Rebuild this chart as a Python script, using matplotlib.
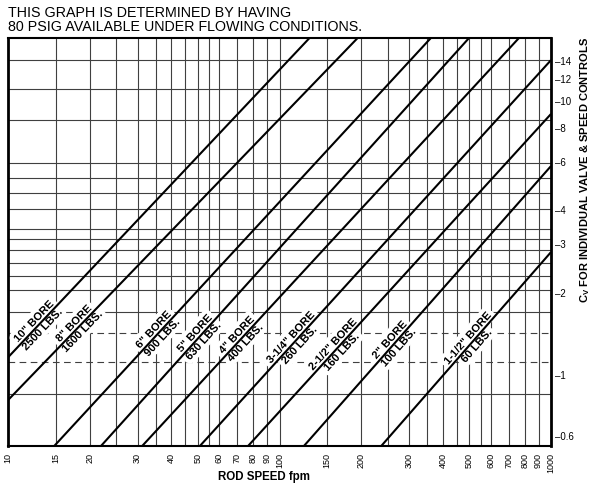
import numpy as np
import matplotlib
matplotlib.use("Agg")
import matplotlib.pyplot as plt
import matplotlib.patheffects as pe

plt.rcParams['font.family'] = ['Liberation Sans', 'DejaVu Sans']
plt.rcParams['mathtext.fontset'] = 'custom'
plt.rcParams['mathtext.rm'] = 'Liberation Sans'
plt.rcParams['mathtext.bf'] = 'Liberation Sans:bold'

# ---- data ----
bore_labels = ['10" BORE', '8" BORE', '6" BORE', '5" BORE', '4" BORE',
               '3-1/4" BORE', '2-1/2" BORE', '2" BORE', '1-1/2" BORE']
force_labels = ['2500 LBS.', '1600 LBS.', '900 LBS.', '630 LBS.', '400 LBS.',
                '260 LBS.', '160 LBS.', '100 LBS.', '60 LBS.']
speed_start = [10, 10, 14.8, 22.0, 31.2, 50.9, 76.6, 123, 237]
cv_start = [1.16, 0.81, 0.551, 0.551, 0.551, 0.551, 0.551, 0.551, 0.551]
speed_end = [129, 194, 361, 499, 762, 1000, 1000, 1000, 1000]
cv_end = [16.98, 16.98, 16.98, 16.98, 16.98, 14.1, 8.97, 5.79, 2.81]
label_speed = [12.9, 18.1, 35.6, 50.5, 72.1, 114, 163, 264, 512]

x_ticks = [10, 15, 20, 30, 40, 50, 60, 70, 80, 90, 100, 150, 200, 300, 400,
           500, 600, 700, 800, 900, 1000]
x_grid = [15, 20, 25, 30, 35, 40, 45, 50, 55, 60, 70, 80, 90, 100,
          150, 200, 250, 300, 350, 400, 450, 500, 550, 600, 700, 800, 900]
y_ticks = [0.6, 1, 2, 3, 4, 6, 8, 10, 12, 14]
y_grid = [14.1, 11.06, 8.52, 5.94, 5.24, 4.62, 4.03, 3.41, 3.14, 2.86, 2.56,
          2.30, 2.04, 1.70, 0.853]
y_grid_dashed = [1.42, 1.12]

fig = plt.figure(figsize=(6, 4.86), dpi=100)
ax = fig.add_axes([8/600, 1-446/486, 543/600, 408/486])
ax.set_xscale('log')
ax.set_yscale('log')
ax.set_xlim(10, 1000)
ax.set_ylim(0.551, 16.98)

for g in x_grid:
    ax.axvline(g, color='#404040', lw=0.8, zorder=1)
for g in y_grid:
    ax.axhline(g, color='#404040', lw=0.8, zorder=1)
for g in y_grid_dashed:
    ax.axhline(g, color='#404040', lw=0.8, zorder=1, dashes=(6, 4))

for i in range(len(bore_labels)):
    ax.plot([speed_start[i], speed_end[i]], [cv_start[i], cv_end[i]],
            color='black', lw=1.5, zorder=4, solid_capstyle='butt')
    ls = np.log10([speed_start[i], speed_end[i]])
    lc = np.log10([cv_start[i], cv_end[i]])
    xs = label_speed[i]
    ys = 10 ** np.interp(np.log10(xs), ls, lc)
    p0 = ax.transData.transform((speed_start[i], cv_start[i]))
    p1 = ax.transData.transform((speed_end[i], cv_end[i]))
    ang = np.degrees(np.arctan2(p1[1]-p0[1], p1[0]-p0[0]))
    ax.text(xs, ys, bore_labels[i] + "\n" + force_labels[i], rotation=ang,
            rotation_mode='anchor', ha='center', va='center',
            multialignment='center', fontsize=8, fontweight='bold',
            linespacing=1.2, zorder=3,
            path_effects=[pe.withStroke(linewidth=6, foreground='white')])

ax.set_xticks(x_ticks)
ax.set_xticklabels([str(t) for t in x_ticks], rotation=90, fontsize=6.5)
ax.xaxis.set_minor_locator(matplotlib.ticker.NullLocator())
ax.tick_params(axis='x', length=0, pad=5)

ax.yaxis.tick_right()
ax.set_yticks(y_ticks)
ax.set_yticklabels(['\u2013' + ('0.6' if t == 0.6 else str(int(t))) for t in y_ticks],
                   fontsize=7)
ax.yaxis.set_minor_locator(matplotlib.ticker.NullLocator())
ax.tick_params(axis='y', length=0, pad=3)

for s in ['left', 'right']:
    ax.spines[s].set_linewidth(2.0)
for s in ['top', 'bottom']:
    ax.spines[s].set_linewidth(1.5)

fig.text(8/600, 1-13/486, "THIS GRAPH IS DETERMINED BY HAVING", fontsize=10.3,
         va='center', ha='left')
fig.text(8/600, 1-27/486, "80 PSIG AVAILABLE UNDER FLOWING CONDITIONS.",
         fontsize=10.3, va='center', ha='left')
fig.text(264/600, 1-477/486, "ROD SPEED fpm", fontsize=8.3, fontweight='bold',
         ha='center', va='center')
fig.text(585/600, 1-170/486,
         r"$\mathbf{C_{V}}$ FOR INDIVIDUAL VALVE & SPEED CONTROLS",
         fontsize=8, fontweight='bold', rotation=90, ha='center', va='center')

fig.savefig('out.png', dpi=100)
